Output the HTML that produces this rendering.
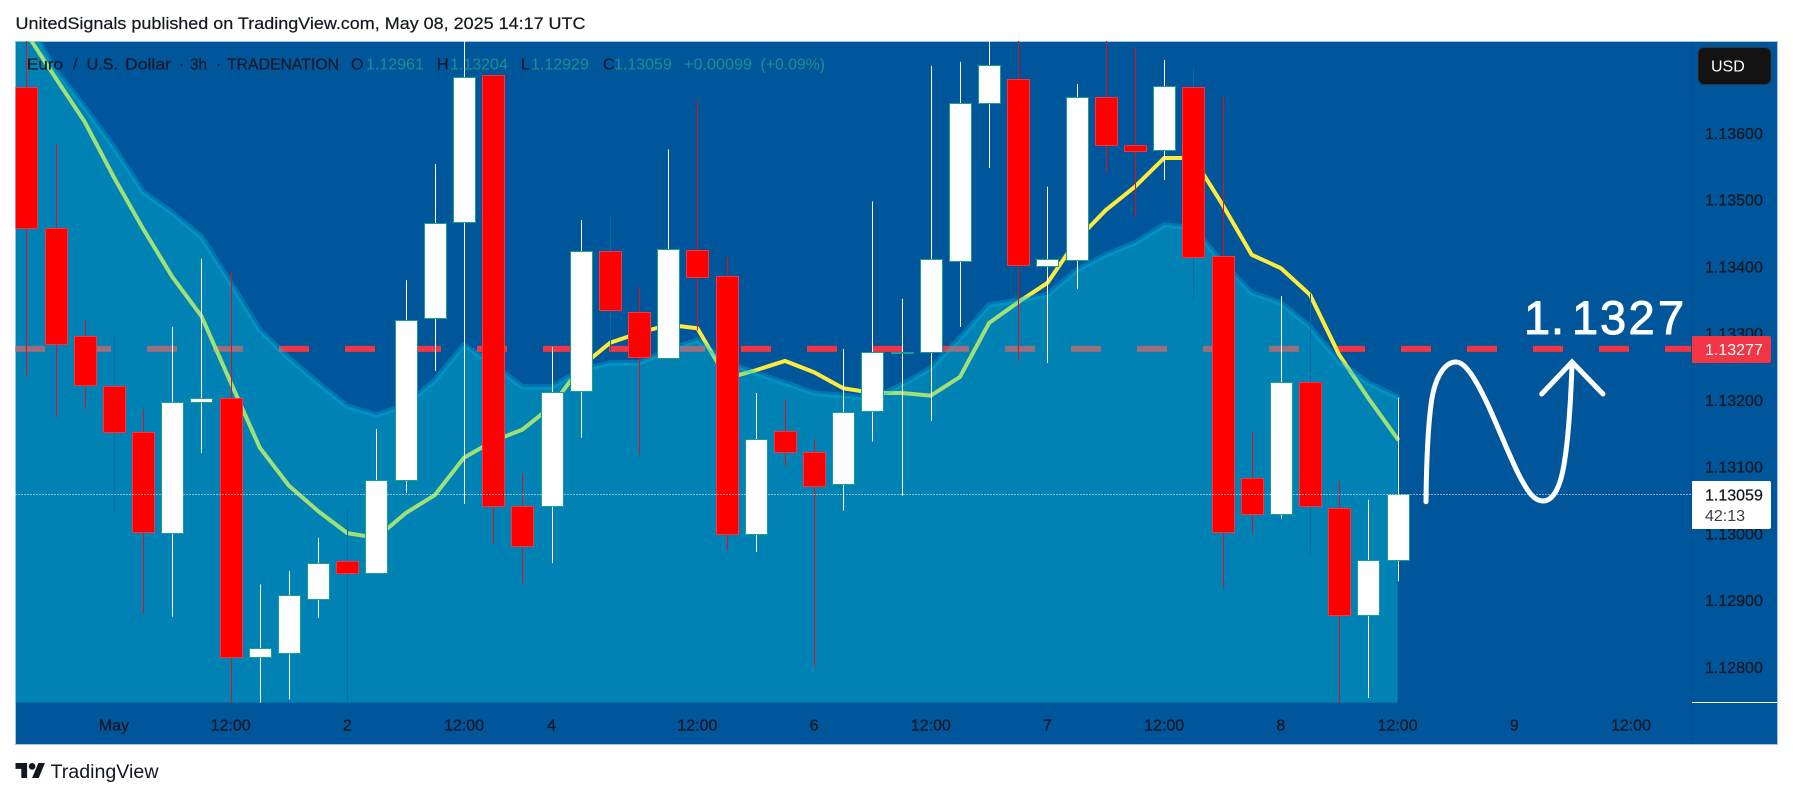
<!DOCTYPE html>
<html lang="en">
<head>
<meta charset="utf-8">
<title>EUR/USD 3h chart</title>
<style>
html,body{margin:0;padding:0;background:#fff;width:1793px;height:798px;overflow:hidden}
svg{display:block}
text{font-family:"Liberation Sans",sans-serif}
</style>
</head>
<body>
<svg id="chart" xmlns="http://www.w3.org/2000/svg" width="1793" height="798" viewBox="0 0 1793 798">
<defs>
<clipPath id="plot-clip"><rect x="15.5" y="41" width="1676.5" height="661.7"/></clipPath>
</defs>
<rect x="0" y="0" width="1793" height="798" fill="#ffffff"/>
<text x="15.5" y="29" font-size="17" fill="#131722" stroke="#131722" stroke-width="0.2" textLength="570" lengthAdjust="spacingAndGlyphs">UnitedSignals published on TradingView.com, May 08, 2025 14:17 UTC</text>
<rect x="15.5" y="41.5" width="1762" height="703" fill="#00569b" stroke="#a9c3dc" stroke-width="1"/>
<g id="under" clip-path="url(#plot-clip)"></g>
<g id="overlay" clip-path="url(#plot-clip)"></g>
<g id="candles" clip-path="url(#plot-clip)"></g>
<g id="top" clip-path="url(#plot-clip)"></g>
<g>
<path d="M1426 501.7 C1426.5 455 1428 423 1432 398 C1436 376 1445 362 1456 362 C1466 362 1477 382 1487 403 C1497 424 1510 458 1520 477 C1528 492 1534 501 1543 501 C1552 501 1559 490 1563 470 C1568 445 1571 400 1572 363" fill="none" stroke="#ffffff" stroke-width="5" stroke-linecap="round"/>
<path d="M1541.7 394 L1572 362 L1603 394" fill="none" stroke="#ffffff" stroke-width="5" stroke-linecap="round" stroke-linejoin="miter"/>
<text x="1524 1551 1572 1600 1628.5 1658" y="334" font-size="47" fill="#ffffff" stroke="#ffffff" stroke-width="1">1.1327</text>
</g>
<g font-size="16" stroke-width="0.2">
<g fill="#131722" stroke="#131722">
<text x="27" y="69.5" textLength="36" lengthAdjust="spacingAndGlyphs">Euro</text>
<text x="73" y="69.5">/</text>
<text x="86.6" y="69.5" textLength="31.5" lengthAdjust="spacingAndGlyphs">U.S.</text>
<text x="125" y="69.5" textLength="46" lengthAdjust="spacingAndGlyphs">Dollar</text>
<text x="179" y="69.5">·</text>
<text x="190" y="69.5" textLength="17" lengthAdjust="spacingAndGlyphs">3h</text>
<text x="216" y="69.5">·</text>
<text x="227" y="69.5" textLength="112" lengthAdjust="spacingAndGlyphs">TRADENATION</text>
</g>
<text x="351" y="69.5" fill="#131722" stroke="#131722">O</text>
<text x="366" y="69.5" fill="#1f8f8c">1.12961</text>
<text x="437" y="69.5" fill="#131722" stroke="#131722">H</text>
<text x="450" y="69.5" fill="#1f8f8c">1.13204</text>
<text x="521" y="69.5" fill="#131722" stroke="#131722">L</text>
<text x="531" y="69.5" fill="#1f8f8c">1.12929</text>
<text x="603" y="69.5" fill="#131722" stroke="#131722">C</text>
<text x="614" y="69.5" fill="#1f8f8c">1.13059</text>
<text x="684" y="69.5" fill="#1f8f8c" textLength="68" lengthAdjust="spacingAndGlyphs">+0.00099</text>
<text x="760.5" y="69.5" fill="#1f8f8c" textLength="64.5" lengthAdjust="spacingAndGlyphs">(+0.09%)</text>
</g>
<g id="price-axis" font-size="16" fill="#131722" stroke-width="0.25">
<line x1="1691.5" y1="42" x2="1691.5" y2="744" stroke="#004f90" stroke-width="1"/>
<line x1="1692" y1="702.5" x2="1777" y2="702.5" stroke="#ffffff" stroke-width="1"/>
</g>
<g id="time-axis" font-size="16" fill="#131722" stroke="#131722" stroke-width="0.25" text-anchor="middle"></g>
<g>
<rect x="1698" y="47.5" width="73" height="37" rx="6" fill="#131313" stroke="#2a3a4a" stroke-width="1"/>
<text x="1711" y="71.5" font-size="16" fill="#ffffff">USD</text>
</g>
<g>
<path d="M1692 336 H1769 a2 2 0 0 1 2 2 V361 a2 2 0 0 1 -2 2 H1692 Z" fill="#f23645"/>
<text x="1705" y="355" font-size="16" fill="#ffffff">1.13277</text>
</g>
<g>
<path d="M1692 481 H1769 a2 2 0 0 1 2 2 V527 a2 2 0 0 1 -2 2 H1692 Z" fill="#ffffff"/>
<text x="1705" y="500.5" font-size="16" fill="#131722" stroke="#131722" stroke-width="0.25">1.13059</text>
<text x="1705" y="521" font-size="16" fill="#3a3e4a">42:13</text>
</g>
<g transform="translate(15.5 759.7) scale(0.83)" fill="#131722">
<path d="M14 22H7V11H0V4h14v18zM28 22h-8l7.5-18h8L28 22z"/>
<circle cx="20" cy="8" r="4"/>
</g>
<text x="50.5" y="778" font-size="19" fill="#131722" textLength="108" lengthAdjust="spacingAndGlyphs">TradingView</text>
</svg>
<script>
const opens = [1.13670,1.13458,1.13296,1.13222,1.13152,1.13001,1.13197,1.13204,1.12815,1.12822,1.12902,1.12959,1.12941,1.13081,1.13323,1.13467,1.13687,1.13041,1.13041,1.13214,1.13423,1.13333,1.13264,1.13425,1.13386,1.12999,1.13154,1.13122,1.13074,1.13184,1.13272,1.13272,1.13408,1.13646,1.13681,1.13401,1.13410,1.13655,1.13583,1.13575,1.13670,1.13416,1.13083,1.13029,1.13228,1.13038,1.12879,1.12961];
const highs = [1.13760,1.13585,1.13321,1.13295,1.13187,1.13310,1.13412,1.13393,1.12924,1.12944,1.12994,1.13036,1.13157,1.13380,1.13554,1.13760,1.13687,1.13090,1.13280,1.13470,1.13475,1.13370,1.13576,1.13648,1.13414,1.13211,1.13201,1.13141,1.13277,1.13498,1.13352,1.13701,1.13707,1.13760,1.13760,1.13520,1.13674,1.13760,1.13729,1.13710,1.13698,1.13654,1.13154,1.13356,1.13360,1.13078,1.13051,1.13204];
const lows = [1.13235,1.13175,1.13187,1.13030,1.12880,1.12876,1.13121,1.12745,1.12745,1.12752,1.12874,1.12745,1.12941,1.13061,1.13244,1.13045,1.12985,1.12926,1.12956,1.13144,1.13275,1.13118,1.13264,1.13305,1.12975,1.12973,1.13101,1.12800,1.13035,1.13138,1.13057,1.13169,1.13310,1.13548,1.13259,1.13256,1.13367,1.13542,1.13474,1.13530,1.13350,1.12919,1.13000,1.13023,1.12969,1.12745,1.12754,1.12929];
const closes = [1.13458,1.13285,1.13223,1.13152,1.13002,1.13197,1.13203,1.12816,1.12829,1.12909,1.12957,1.12942,1.13080,1.13321,1.13465,1.13685,1.13041,1.12981,1.13213,1.13423,1.13335,1.13265,1.13426,1.13385,1.12999,1.13142,1.13122,1.13071,1.13183,1.13273,1.13273,1.13411,1.13646,1.13703,1.13402,1.13411,1.13655,1.13583,1.13574,1.13671,1.13414,1.13002,1.13029,1.13228,1.13041,1.12879,1.12960,1.13059];
const movingAverage = [1.13750,1.13683,1.13617,1.13534,1.13457,1.13385,1.13326,1.13227,1.13129,1.13072,1.13034,1.13001,1.12994,1.13031,1.13058,1.13114,1.13139,1.13156,1.13191,1.13250,1.13286,1.13301,1.13313,1.13308,1.13233,1.13245,1.13259,1.13242,1.13218,1.13211,1.13211,1.13207,1.13235,1.13316,1.13347,1.13376,1.13440,1.13485,1.13520,1.13563,1.13563,1.13493,1.13418,1.13398,1.13358,1.13268,1.13203,1.13142];
const bandUpper = [1.13770,1.13695,1.13639,1.13579,1.13512,1.13481,1.13445,1.13376,1.13305,1.13263,1.13226,1.13191,1.13178,1.13193,1.13230,1.13283,1.13253,1.13220,1.13220,1.13245,1.13256,1.13256,1.13275,1.13290,1.13257,1.13241,1.13226,1.13211,1.13207,1.13203,1.13223,1.13248,1.13293,1.13343,1.13350,1.13358,1.13395,1.13418,1.13436,1.13463,1.13458,1.13406,1.13361,1.13346,1.13310,1.13258,1.13226,1.13205];
const dimWickBars = [3,11,20,40,44];
const priceTicks = ["1.13600","1.13500","1.13400","1.13300","1.13200","1.13100","1.13000","1.12900","1.12800"];
const timeTickLabels = ["May","12:00","2","12:00","4","12:00","6","12:00","7","12:00","8","12:00","9","12:00"];
const timeTickBars = [3,7,11,15,18,23,27,31,35,39,43,47,51,55];
const horizontalLevel = 1.13277;
const lastPrice = 1.13059;

const SVGNS = 'http://www.w3.org/2000/svg';
const xOf = i => 26.4 + 29.174 * i;
const yOf = p => 667.3 - (p - 1.128) * 66750;
const PLOT_LEFT = 15.5, PLOT_BOTTOM = 702.7, PLOT_RIGHT = 1692;
const make = (tag, parent) => { const el = document.createElementNS(SVGNS, tag); parent.appendChild(el); return el; };
const under = document.getElementById('under');
const overlay = document.getElementById('overlay');
const candleLayer = document.getElementById('candles');
const topLayer = document.getElementById('top');
const priceAxis = document.getElementById('price-axis');
const timeAxis = document.getElementById('time-axis');

const level = make('line', under);


level.setAttribute('x1', 15);
level.setAttribute('x2', PLOT_RIGHT);
level.setAttribute('y1', yOf(horizontalLevel));
level.setAttribute('y2', yOf(horizontalLevel));
level.setAttribute('stroke', '#f23645');
level.setAttribute('stroke-width', 6);
level.setAttribute('stroke-dasharray', '30 36');

const maPoints = movingAverage.map((v, i) => xOf(i) + ',' + yOf(v)).join(' ');
const maLine = make('polyline', under);


maLine.setAttribute('points', maPoints);
maLine.setAttribute('fill', 'none');
maLine.setAttribute('stroke', '#ffeb3b');
maLine.setAttribute('stroke-width', 4);
maLine.setAttribute('stroke-linejoin', 'round');
maLine.setAttribute('stroke-linecap', 'round');

const upperPoints = bandUpper.map((v, i) => xOf(i) + ',' + yOf(v));
const areaPoints = [PLOT_LEFT + ',' + yOf(bandUpper[0])].concat(upperPoints, [xOf(47) + ',' + PLOT_BOTTOM, PLOT_LEFT + ',' + PLOT_BOTTOM]).join(' ');
const area = make('polygon', overlay);


area.setAttribute('points', areaPoints);
area.setAttribute('fill', 'rgba(0,205,222,0.37)');
const band = make('polyline', overlay);


band.setAttribute('points', upperPoints.join(' '));
band.setAttribute('fill', 'none');
band.setAttribute('stroke', 'rgba(0,190,230,0.30)');
band.setAttribute('stroke-width', 5.5);
band.setAttribute('stroke-linejoin', 'round');
band.setAttribute('stroke-linecap', 'round');

closes.forEach((c, i) => {
  const o = opens[i], up = c >= o;
  const cx = Math.round(xOf(i)) + 0.5;
  const group = make('g', candleLayer);
  
  
  const wick = make('line', group);
  
  
  wick.setAttribute('x1', cx);
  wick.setAttribute('x2', cx);
  wick.setAttribute('y1', yOf(highs[i]));
  wick.setAttribute('y2', yOf(lows[i]));
  wick.setAttribute('stroke', up ? '#ffffff' : (dimWickBars.includes(i) ? '#0a6c9c' : '#e0101c'));
  wick.setAttribute('stroke-width', 1);
  const body = make('rect', group);
  const top = yOf(Math.max(o, c));
  const bottom = yOf(Math.min(o, c));
  
  
  body.setAttribute('x', cx - 11);
  body.setAttribute('width', 22);
  body.setAttribute('y', Math.round(top) + 0.5);
  body.setAttribute('height', Math.max(1, Math.round(bottom) - Math.round(top)));
  body.setAttribute('fill', up ? '#ffffff' : '#ff0000');
  body.setAttribute('stroke', up ? '#1a9e92' : '#f23645');
  body.setAttribute('stroke-width', 1);
});

const lastLine = make('line', topLayer);


lastLine.setAttribute('x1', PLOT_LEFT);
lastLine.setAttribute('x2', PLOT_RIGHT);
lastLine.setAttribute('y1', Math.round(yOf(lastPrice) - 0.4) + 0.5);
lastLine.setAttribute('y2', Math.round(yOf(lastPrice) - 0.4) + 0.5);
lastLine.setAttribute('stroke', '#ffffff');
lastLine.setAttribute('stroke-width', 1);
lastLine.setAttribute('stroke-dasharray', '1 2');

priceTicks.forEach(label => {
  const t = make('text', priceAxis);
  
  
  t.setAttribute('x', 1705);
  t.setAttribute('y', yOf(parseFloat(label)) + 5.6);
  t.setAttribute('stroke', '#131722');
  t.textContent = label;
});

timeTickLabels.forEach((label, k) => {
  const t = make('text', timeAxis);
  
  
  t.setAttribute('x', xOf(timeTickBars[k]));
  t.setAttribute('y', 730.5);
  t.textContent = label;
});
</script>
</body>
</html>
